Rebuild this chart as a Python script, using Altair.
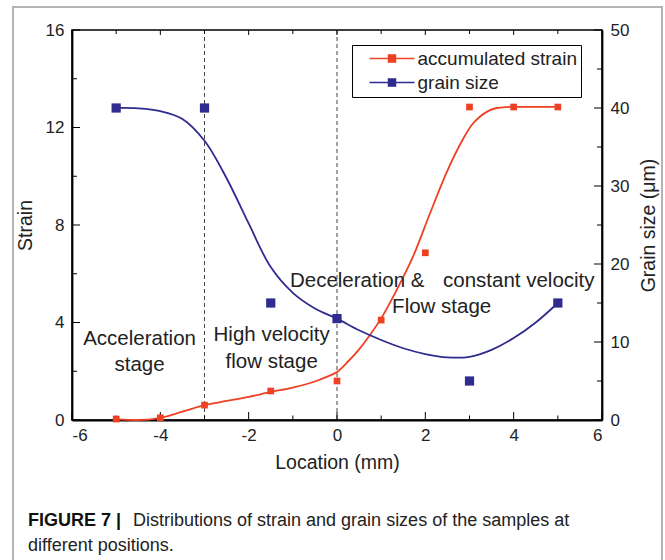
import altair as alt
import pandas as pd

# ---------------- data ----------------
series_names = ["accumulated strain", "grain size"]
series_colors = ["#EE4123", "#2F2B8F"]

strain_x = [-5, -4, -3, -1.5, 0, 1, 2, 3, 4, 5]
strain_y = [0.04, 0.09, 0.61, 1.19, 1.6, 4.1, 6.86, 12.84, 12.84, 12.84]

grain_x = [-5, -3, -1.5, 0, 3, 5]
grain_y = [40, 40, 15, 13, 5, 15]

# smoothed fit curves
strain_fit_x = [-5, -4.5, -4, -3.5, -3, -2.5, -2, -1.5, -1, -0.5, -0.25, 0, 0.25, 0.5, 0.75,
                1, 1.35, 1.72, 2.1, 2.48, 2.86, 3.05, 3.24, 3.43, 3.62, 3.81, 4, 4.5, 5]
strain_fit_y = [0.04, 0.0, 0.09, 0.34, 0.61, 0.78, 0.95, 1.15, 1.33, 1.58, 1.76, 1.97, 2.4, 2.9, 3.5,
                4.17, 5.33, 6.7, 8.45, 10.15, 11.55, 12.1, 12.45, 12.68, 12.8, 12.84, 12.85, 12.85,
                12.85]

grain_fit_x = [-5, -4.5, -4, -3.5, -3, -2.5, -2, -1.5, -1, -0.5, 0, 0.5, 1, 1.5, 2, 2.5, 3,
               3.5, 4, 4.5, 5]
grain_fit_y = [40, 39.95, 39.6, 38.6, 35.8, 31.0, 25.2, 19.6, 16.3, 14.3, 13.0, 11.5, 10.26, 9.2,
               8.46, 8.03, 8.1, 9.0, 10.5, 12.5, 15.0]

stage_x = [-3, 0]

x_major = [-6, -4, -2, 0, 2, 4, 6]
x_minor = [-5, -3, -1, 1, 3, 5]
strain_major = [0, 4, 8, 12, 16]
strain_minor = [2, 6, 10, 14]
grain_major = [0, 10, 20, 30, 40, 50]
grain_minor = [5, 15, 25, 35, 45]

ann_text = ["Acceleration", "stage", "High velocity", "flow stage", "Flow stage"]
ann_x = [-4.47, -4.47, -1.48, -1.48, 2.37]
ann_y = [3.32, 2.26, 3.49, 2.39, 4.65]
ann2_text = ["Deceleration &", "constant velocity"]
ann2_x = [-1.065, 2.40]
ann2_y = [5.72, 5.72]

caption_bold = "FIGURE 7 |"
caption_1 = "Distributions of strain and grain sizes of the samples at"
caption_2 = "different positions."

# ---------------- chart ----------------
FONT = "Liberation Sans"
W, H = 530, 390

xs = alt.Scale(domain=[-6, 6], nice=False, zero=False)
ys_strain = alt.Scale(domain=[0, 16], nice=False)
ys_grain = alt.Scale(domain=[0, 50], nice=False)
cs = alt.Scale(domain=series_names, range=series_colors)

legend_path = "M-4.5,-0.17H4.5V0.17H-4.5Z M-0.85,-0.85H0.85V0.85H-0.85Z"
LEG = alt.Legend(
    title=None, orient="none", legendX=280, legendY=15, direction="vertical",
    strokeColor="black", fillColor="white", padding=4, rowPadding=4,
    symbolType=legend_path, symbolSize=100, symbolStrokeWidth=0,
    symbolOffset=26.5, labelOffset=16, labelFontSize=19, labelFont=FONT,
    labelColor="#222", labelLimit=400)

X_AXIS = alt.Axis(
    title="Location (mm)", values=x_major, ticks=False, grid=False,
    labelExpr="toString(datum.value)",
    domainColor="black", domainWidth=1.8, labelFontSize=17, labelPadding=7,
    labelColor="#222", titleFontSize=19.5, titleFontWeight="normal", titlePadding=10,
    titleColor="#222", labelFont=FONT, titleFont=FONT)

df_s = pd.DataFrame({"x": strain_x, "y": strain_y, "series": series_names[0]})
df_g = pd.DataFrame({"x": grain_x, "y": grain_y, "series": series_names[1]})
df_sf = pd.DataFrame({"x": strain_fit_x, "y": strain_fit_y, "series": series_names[0]})
df_gf = pd.DataFrame({"x": grain_fit_x, "y": grain_fit_y, "series": series_names[1]})

stages = alt.Chart(pd.DataFrame({"x": stage_x})).mark_rule(
    color="#444", strokeWidth=1, strokeDash=[4, 3]).encode(
    x=alt.X("x:Q", scale=xs, axis=X_AXIS))

strain_line = alt.Chart(df_sf).mark_line(interpolate="monotone", strokeWidth=1.8).encode(
    x=alt.X("x:Q", scale=xs, axis=X_AXIS),
    y=alt.Y("y:Q", scale=ys_strain, axis=alt.Axis(
        orient="left", title="Strain", values=strain_major, ticks=False, grid=False,
        domainColor="black", domainWidth=1.8, labelFontSize=17, labelPadding=8,
        labelColor="#222", titleFontSize=19.5, titleFontWeight="normal", titlePadding=10,
        titleColor="#222", labelFont=FONT, titleFont=FONT)),
    color=alt.Color("series:N", scale=cs, legend=LEG),
)
strain_pts = alt.Chart(df_s).mark_point(shape="square", filled=True, size=45, opacity=1).encode(
    x=alt.X("x:Q", scale=xs, axis=X_AXIS),
    y=alt.Y("y:Q", scale=ys_strain, axis=None),
    color=alt.Color("series:N", scale=cs, legend=LEG),
)
grain_line = alt.Chart(df_gf).mark_line(interpolate="catmull-rom", strokeWidth=1.8).encode(
    x=alt.X("x:Q", scale=xs, axis=X_AXIS),
    y=alt.Y("y:Q", scale=ys_grain, axis=alt.Axis(
        orient="right", title="Grain size (μm)", values=grain_major, ticks=False, grid=False,
        domainColor="black", domainWidth=1.8, labelFontSize=17, labelPadding=8,
        labelColor="#222", titleFontSize=19.5, titleFontWeight="normal", titlePadding=30,
        titleAngle=270, titleColor="#222", labelFont=FONT, titleFont=FONT)),
    color=alt.Color("series:N", scale=cs, legend=LEG),
)
grain_pts = alt.Chart(df_g).mark_point(shape="square", filled=True, size=85, opacity=1).encode(
    x=alt.X("x:Q", scale=xs, axis=X_AXIS),
    y=alt.Y("y:Q", scale=ys_grain, axis=None),
    color=alt.Color("series:N", scale=cs, legend=LEG),
)


def xticks(vals, y1, y2):
    return alt.Chart(pd.DataFrame({"v": vals})).mark_rule(color="black", strokeWidth=1).encode(
        x=alt.X("v:Q", scale=xs, axis=X_AXIS), y=alt.value(y1), y2=alt.value(y2))


def yticks(vals, scale, x1, x2):
    return alt.Chart(pd.DataFrame({"v": vals})).mark_rule(color="black", strokeWidth=1).encode(
        y=alt.Y("v:Q", scale=scale, axis=None), x=alt.value(x1), x2=alt.value(x2))


tick_layers = [
    xticks(x_major, H, H - 8), xticks(x_minor, H, H - 4.5),
    xticks(x_major, 0, 5), xticks(x_minor, 0, 4),
    yticks(strain_major, ys_strain, 0, 8), yticks(strain_minor, ys_strain, 0, 5),
    yticks(grain_major, ys_grain, W, W - 8), yticks(grain_minor, ys_grain, W, W - 5),
]

ann = alt.Chart(pd.DataFrame({"t": ann_text, "x": ann_x, "y": ann_y})).mark_text(
    fontSize=20.5, font=FONT, color="#222", align="center", baseline="middle").encode(
    x=alt.X("x:Q", scale=xs, axis=X_AXIS), y=alt.Y("y:Q", scale=ys_strain, axis=None), text="t:N")
ann2 = alt.Chart(pd.DataFrame({"t": ann2_text, "x": ann2_x, "y": ann2_y})).mark_text(
    fontSize=20.5, font=FONT, color="#222", align="left", baseline="middle").encode(
    x=alt.X("x:Q", scale=xs, axis=X_AXIS), y=alt.Y("y:Q", scale=ys_strain, axis=None), text="t:N")

one = pd.DataFrame({"a": [0]})
frame = alt.Chart(one).mark_rect(fill=None, stroke="#b4b4b4", strokeWidth=2).encode(
    x=alt.value(-59), x2=alt.value(590), y=alt.value(-23), y2=alt.value(620))
cap_b = alt.Chart(one).mark_text(fontSize=18, font=FONT, fontWeight="bold", align="left",
                                 baseline="middle", color="#111").encode(
    x=alt.value(-44), y=alt.value(491), text=alt.value(caption_bold))
cap_1 = alt.Chart(one).mark_text(fontSize=18, font=FONT, align="left", baseline="middle",
                                 color="#222").encode(
    x=alt.value(61), y=alt.value(491), text=alt.value(caption_1))
cap_2 = alt.Chart(one).mark_text(fontSize=18, font=FONT, align="left", baseline="middle",
                                 color="#222").encode(
    x=alt.value(-44), y=alt.value(516), text=alt.value(caption_2))

chart = alt.layer(
    stages, frame, *tick_layers, strain_line, grain_line, strain_pts, grain_pts,
    ann, ann2, cap_b, cap_1, cap_2,
).resolve_scale(y="independent").properties(
    width=W, height=H,
    autosize=alt.AutoSizeParams(type="none"),
    padding={"left": 72, "top": 30, "right": 63, "bottom": 140},
    background="white",
).configure_view(stroke="black", strokeWidth=1.6)

chart.save("out.html", embed_options={"renderer": "svg", "actions": False})
